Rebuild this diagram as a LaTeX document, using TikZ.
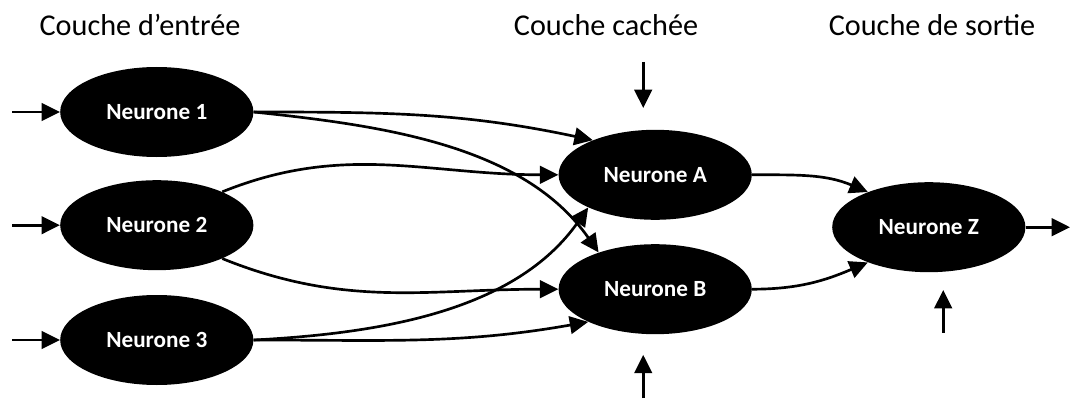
\documentclass[tikz,border=0pt]{standalone}
\usepackage{fontspec}
\setmainfont{Carlito}
\usetikzlibrary{shapes.geometric, arrows.meta}
\tikzset{
  neurone/.style={ellipse, fill=black, text=white, inner sep=0pt,
    minimum width=4.83cm, minimum height=2.25cm,
    font=\fontsize{16.5}{19}\selectfont\bfseries},
  couche/.style={font=\fontsize{21.5}{25}\selectfont},
  lien/.style={-{Triangle[length=0.46cm, width=0.44cm]}, line width=1.9pt}
}
\begin{document}
\begin{tikzpicture}
    \useasboundingbox (0, 0) rectangle (26.75, 9.95);
    % titres des couches
    \node[couche] (tin) at (3.5, 9.33) {Couche d’entrée};
    \node[couche] (tca) at (15.15, 9.33) {Couche cachée};
    \node[couche] (tso) at (23.3, 9.33) {Couche de sortie};
    % neurones
    \node[neurone] (n1) at (3.92, 7.15) {Neurone 1};
    \node[neurone] (n2) at (3.92, 4.32) {Neurone 2};
    \node[neurone] (n3) at (3.92, 1.45) {Neurone 3};
    \node[neurone] (na) at (16.38, 5.58) {Neurone A};
    \node[neurone] (nb) at (16.38, 2.72) {Neurone B};
    \node[neurone] (nz) at (23.22, 4.27) {Neurone Z};
    % extremites libres
    \coordinate (e1) at (0.3, 7.15);
    \coordinate (e2) at (0.3, 4.32);
    \coordinate (e3) at (0.3, 1.45);
    \coordinate (ha) at (16.08, 8.4);
    \coordinate (hb) at (16.08, 7.25);
    \coordinate (bb) at (16.08, 0);
    \coordinate (bt) at (16.08, 1.08);
    \coordinate (bz) at (23.58, 1.63);
    \coordinate (zt) at (23.58, 2.7);
    \coordinate (sz) at (26.75, 4.27);
    % entrees
    \draw[lien] (e1) -- (n1.west);
    \draw[lien] (e2) -- (n2.west);
    \draw[lien] (e3) -- (n3.west);
    \draw[lien] (ha) -- (hb);
    \draw[lien] (bb) -- (bt);
    \draw[lien] (bz) -- (zt);
    % couche d'entree vers couche cachee
    \draw[lien] (n1.east) to[out=0, in=168] (na.151);
    \draw[lien] (n1.east) to[out=-6, in=125, looseness=0.9] (nb.147);
    \draw[lien] (n2.27) to[out=22, in=180] (na.west);
    \draw[lien] (n2.-27) to[out=-22, in=180] (nb.west);
    \draw[lien] (n3.east) to[out=3, in=235, looseness=0.9] (na.206);
    \draw[lien] (n3.east) to[out=0, in=190] (nb.206);
    % couche cachee vers sortie
    \draw[lien] (na.east) to[out=0, in=157] (nz.150);
    \draw[lien] (nb.east) to[out=0, in=203] (nz.210);
    \draw[lien] (nz.east) -- (sz);
  \end{tikzpicture}
\end{document}
